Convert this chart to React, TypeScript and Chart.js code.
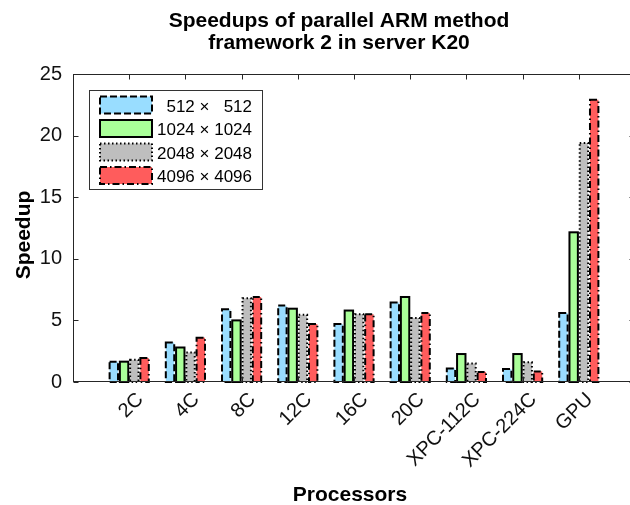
import React, { useEffect, useRef } from 'react';
import { Chart, registerables } from 'chart.js';

Chart.register(...registerables);

const categories = ['2C', '4C', '8C', '12C', '16C', '20C', 'XPC-112C', 'XPC-224C', 'GPU'];
const seriesLabels = ['512 \u00d7   512', '1024 \u00d7 1024', '2048 \u00d7 2048', '4096 \u00d7 4096'];
const s512 = [1.65, 3.2, 5.9, 6.2, 4.7, 6.45, 1.1, 1.05, 5.6];
const s1024 = [1.65, 2.8, 5.0, 5.95, 5.8, 6.9, 2.27, 2.27, 12.15];
const s2048 = [1.8, 2.4, 6.8, 5.45, 5.5, 5.2, 1.5, 1.6, 19.4];
const s4096 = [1.95, 3.6, 6.9, 4.7, 5.5, 5.6, 0.82, 0.86, 22.9];
const yTicks = [0, 5, 10, 15, 20, 25];
const titleLines = ['Speedups of parallel ARM method', 'framework 2 in server K20'];
const xTitle = 'Processors';
const yTitle = 'Speedup';

const fills = ['rgb(153,221,255)', 'rgb(170,255,153)', 'rgb(190,190,190)', 'rgb(255,92,92)'];
const dashes: number[][] = [[7, 3], [], [1.5, 2.5], [7, 3, 1.5, 3]];
const FONT = '"Liberation Sans", Arial, Helvetica, sans-serif';
const AXIS_COLOR = '#262626';

const decor = {
  id: 'decor',
  afterDatasetsDraw(chart: any) {
    const ctx = chart.ctx;
    chart.data.datasets.forEach((_ds: any, di: number) => {
      const meta = chart.getDatasetMeta(di);
      meta.data.forEach((el: any) => {
        const { x, y, base, width } = el.getProps(['x', 'y', 'base', 'width'], true);
        ctx.save();
        ctx.strokeStyle = '#000';
        ctx.lineWidth = 2;
        ctx.setLineDash(dashes[di]);
        ctx.strokeRect(x - width / 2, y, width, base - y);
        ctx.restore();
      });
    });
  },
  afterDraw(chart: any) {
    const ctx = chart.ctx;
    const { left, right, top, bottom } = chart.chartArea;
    const xs = chart.scales.x;
    const ys = chart.scales.y;
    ctx.save();
    // axes box
    ctx.strokeStyle = AXIS_COLOR;
    ctx.lineWidth = 1;
    ctx.setLineDash([]);
    const L = Math.round(left) + 0.5, R = Math.round(right) - 0.5;
    const T = Math.round(top) + 0.5, B = Math.round(bottom) - 0.5;
    ctx.strokeRect(L, T, R - L, B - T);
    // ticks inward
    ctx.beginPath();
    categories.forEach((_c, i) => {
      const px = Math.round(xs.getPixelForValue(i + 1)) + 0.5;
      ctx.moveTo(px, B); ctx.lineTo(px, B - 5);
      ctx.moveTo(px, T); ctx.lineTo(px, T + 5);
    });
    yTicks.forEach((v) => {
      const py = Math.round(ys.getPixelForValue(v)) + 0.5;
      ctx.moveTo(L, py); ctx.lineTo(L + 5, py);
      ctx.moveTo(R, py); ctx.lineTo(R - 5, py);
    });
    ctx.stroke();

    // legend
    const lx = 89.5, ly = 90.5, lw = 173, lh = 99;
    ctx.fillStyle = '#fff';
    ctx.fillRect(lx, ly, lw, lh);
    ctx.strokeStyle = '#333';
    ctx.lineWidth = 1;
    ctx.strokeRect(lx, ly, lw, lh);
    ctx.font = `17px ${FONT}`;
    ctx.textAlign = 'right';
    ctx.textBaseline = 'alphabetic';
    seriesLabels.forEach((label, i) => {
      const ry = 96.5 + i * 23.5;
      ctx.fillStyle = fills[i];
      ctx.fillRect(100, ry, 52, 17);
      ctx.strokeStyle = '#000';
      ctx.lineWidth = 2;
      ctx.setLineDash(dashes[i]);
      ctx.strokeRect(100, ry, 52, 17);
      ctx.setLineDash([]);
      ctx.fillStyle = '#000';
      ctx.fillText(label, 252, ry + 15);
    });

    // title and axis titles
    ctx.fillStyle = '#000';
    ctx.font = `bold 21px ${FONT}`;
    ctx.textAlign = 'center';
    ctx.textBaseline = 'alphabetic';
    ctx.fillText(titleLines[0], 339, 27);
    ctx.fillText(titleLines[1], 339, 49);
    ctx.fillText(xTitle, 350, 501);
    ctx.translate(30, 235);
    ctx.rotate(-Math.PI / 2);
    ctx.fillText(yTitle, 0, 0);
    ctx.restore();
  },
};

export default function App() {
  const ref = useRef<HTMLCanvasElement | null>(null);
  useEffect(() => {
    if (!ref.current) return;
    const mk = (vals: number[]) => vals.map((v, i) => ({ x: i + 1, y: v }));
    const series = [s512, s1024, s2048, s4096];
    const chart = new Chart(ref.current, {
      type: 'bar',
      data: {
        datasets: series.map((vals, i) => ({
          label: seriesLabels[i],
          data: mk(vals),
          backgroundColor: fills[i],
          borderWidth: 0,
          categoryPercentage: 0.73,
          barPercentage: 0.82,
        })),
      },
      options: {
        responsive: false,
        animation: false,
        devicePixelRatio: 1,
        layout: { padding: { top: 74, right: 15, left: 0, bottom: 0 } },
        plugins: {
          legend: { display: false },
          title: { display: false },
          tooltip: { enabled: false },
        },
        scales: {
          x: {
            type: 'linear',
            min: 0,
            max: 10,
            offset: false,
            grid: { display: false, drawTicks: false },
            border: { display: false },
            afterBuildTicks: (s: any) => {
              s.ticks = categories.map((_c, i) => ({ value: i + 1 }));
            },
            afterFit: (s: any) => {
              s.height = 123;
            },
            ticks: {
              autoSkip: false,
              minRotation: 45,
              maxRotation: 45,
              padding: 6,
              labelOffset: 11,
              color: '#111',
              font: { family: FONT, size: 20 },
              callback: (v: any) => categories[Math.round(Number(v)) - 1] ?? '',
            },
            title: { display: false },
          },
          y: {
            type: 'linear',
            min: 0,
            max: 25,
            grid: { display: false, drawTicks: false },
            border: { display: false },
            afterBuildTicks: (s: any) => {
              s.ticks = yTicks.map((v) => ({ value: v }));
            },
            afterFit: (s: any) => {
              s.width = 73;
            },
            ticks: {
              padding: 11,
              color: '#111',
              font: { family: FONT, size: 20 },
            },
            title: { display: false },
          },
        },
      },
      plugins: [decor],
    } as any);
    return () => chart.destroy();
  }, []);
  return (
    <div
      style={{
        position: 'fixed',
        left: 0,
        top: 0,
        width: 630,
        height: 505,
        overflow: 'hidden',
        background: '#fff',
      }}
    >
      <canvas ref={ref} width={650} height={505} style={{ display: 'block' }} />
    </div>
  );
}
